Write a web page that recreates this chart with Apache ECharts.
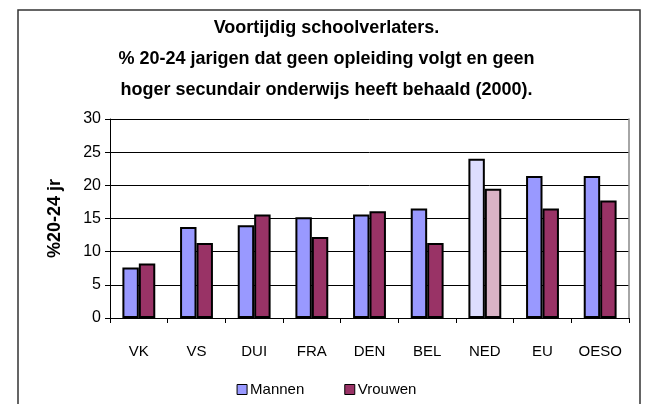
<!DOCTYPE html>
<html>
<head>
<meta charset="utf-8">
<script src="https://cdn.jsdelivr.net/npm/echarts@6/dist/echarts.min.js"></script>
<style>
  html, body { margin: 0; padding: 0; background: #fff; }
  #chart { width: 653px; height: 404px; }
</style>
</head>
<body>
<div id="chart"></div>
<script>
var landen = ['VK', 'VS', 'DUI', 'FRA', 'DEN', 'BEL', 'NED', 'EU', 'OESO'];
var mannen = [7.6, 13.7, 14.0, 15.2, 15.6, 16.5, 24.0, 21.4, 21.4];
var vrouwen = [8.2, 11.3, 15.6, 12.2, 16.1, 11.3, 19.5, 16.5, 17.7];
var titel = 'Voortijdig schoolverlaters.\n% 20-24 jarigen dat geen opleiding volgt en geen\nhoger secundair onderwijs heeft behaald (2000).';

var kleurM = '#9999FF', kleurV = '#993366';
var lichtM = '#DDDDFF', lichtV = '#D9B3C6';

function bars(data, kleur, licht) {
  return data.map(function (v, i) {
    return {
      value: v,
      itemStyle: { color: landen[i] === 'NED' ? licht : kleur, borderColor: '#000', borderWidth: 2 }
    };
  });
}

var myChart = echarts.init(document.getElementById('chart'));
var option = {
  animation: false,
  textStyle: { fontFamily: 'Arial, Liberation Sans, sans-serif' },
  graphic: [{
    type: 'rect',
    shape: { x: 18, y: 10, width: 622, height: 400 },
    style: { fill: null, stroke: '#333', lineWidth: 1.5 },
    silent: true
  }],
  title: {
    text: titel,
    left: 'center',
    top: 8,
    textStyle: { fontSize: 18, fontWeight: 'bold', color: '#000', lineHeight: 31 }
  },
  grid: { left: 110, right: 24, top: 119, bottom: 86 },
  legend: {
    bottom: 2,
    left: 'center',
    itemWidth: 10,
    itemHeight: 10,
    itemGap: 40,
    icon: 'rect',
    itemStyle: { borderColor: '#000', borderWidth: 1 },
    textStyle: { fontSize: 15, color: '#000', padding: [0, 0, 0, -2] },
    data: ['Mannen', 'Vrouwen']
  },
  xAxis: {
    type: 'category',
    data: landen,
    axisLine: { lineStyle: { color: '#000', width: 1 } },
    axisTick: { show: true, length: 5, lineStyle: { color: '#000' } },
    axisLabel: { fontSize: 15, color: '#000', margin: 26 }
  },
  yAxis: [{
    type: 'value',
    min: 0,
    max: 30,
    interval: 5,
    name: '%20-24 jr',
    nameLocation: 'middle',
    nameGap: 46,
    nameRotate: 90,
    nameTextStyle: { fontSize: 18, fontWeight: 'bold', color: '#000' },
    axisLine: { show: true, lineStyle: { color: '#000' } },
    axisTick: { show: true, length: 5, lineStyle: { color: '#000' } },
    axisLabel: { fontSize: 16, color: '#000', margin: 9 },
    splitLine: { lineStyle: { color: '#000', width: 1 } }
  }, {
    type: 'value',
    position: 'right',
    min: 0,
    max: 30,
    interval: 5,
    axisLine: { show: true, lineStyle: { color: '#888', width: 1.5 } },
    axisTick: { show: false },
    axisLabel: { show: false },
    splitLine: { show: false }
  }],
  series: [{
    name: 'Mannen',
    type: 'bar',
    data: bars(mannen, kleurM, lichtM),
    itemStyle: { color: kleurM, borderColor: '#000', borderWidth: 2 },
    barGap: '0%',
    barCategoryGap: '43%'
  }, {
    name: 'Vrouwen',
    type: 'bar',
    data: bars(vrouwen, kleurV, lichtV),
    itemStyle: { color: kleurV, borderColor: '#000', borderWidth: 2 }
  }]
};
myChart.setOption(option);
</script>
</body>
</html>
